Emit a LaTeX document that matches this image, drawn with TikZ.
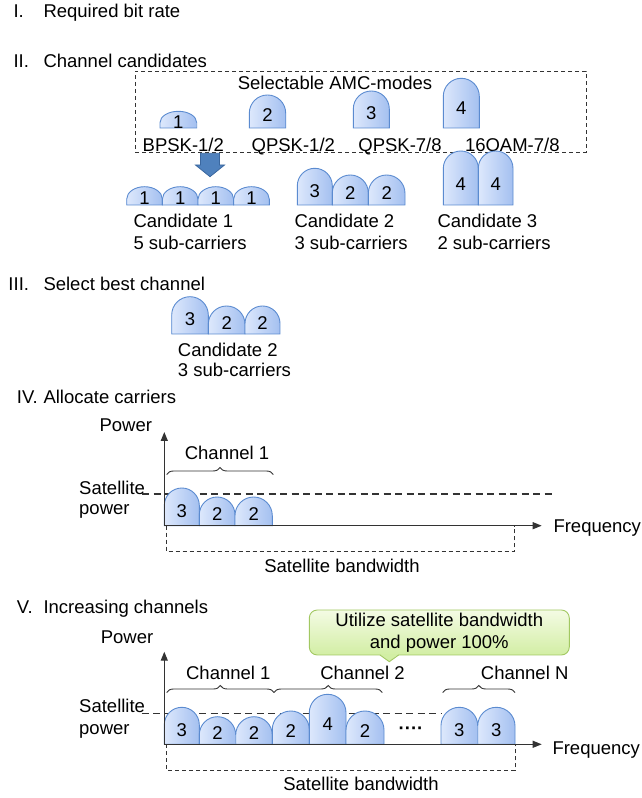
\documentclass[tikz,border=0pt]{standalone}
\usepackage{fontspec}
\setmainfont{Liberation Sans}
\usepackage{tikz}
\usetikzlibrary{arrows.meta,decorations.pathreplacing}

\definecolor{carL}{HTML}{DDE8FC}
\definecolor{carR}{HTML}{A4C0F0}
\definecolor{carD}{HTML}{5B8BD0}
\definecolor{arrF}{HTML}{4F81BD}
\definecolor{arrD}{HTML}{3A679F}
\definecolor{noteT}{HTML}{F4FBE4}
\definecolor{noteB}{HTML}{D2EEA4}
\definecolor{noteD}{HTML}{A2C862}
\definecolor{lineG}{HTML}{333333}

\begin{document}
\begin{tikzpicture}[
        x=1pt, y=1pt,
        every node/.style={font=\fontsize{18.5}{22.5}\selectfont, inner sep=0pt},
        lbl/.style={text height=13.4pt, text depth=0pt},
        carrierbox/.style={left color=carL, right color=carR, draw=carD, line width=0.9pt},
        pics/carrier/.style n args={3}{code={
            \pgfmathsetmacro\crad{min(#1/2,0.68*#2)}
            \pgfmathsetmacro\cside{#2-\crad}
            \draw[carrierbox] (0,0) -- (0,\cside) arc[start angle=180,end angle=0,x radius=#1/2,y radius=\crad] -- (#1,0) -- cycle;
            \node[lbl] (-n) at (#1/2,0.4*#2) {#3};
        }},
        axis/.style={lineG, line width=1.2pt, -{Triangle[length=9pt,width=7pt]}},
        level/.style={lineG, line width=1.1pt, dash pattern=on 7pt off 4.5pt},
        span/.style={lineG, line width=0.9pt, dash pattern=on 4pt off 3pt},
        chbrace/.style={decorate, decoration={brace, amplitude=7pt}, lineG, line width=0.9pt}
    ]
    \useasboundingbox (0,0) rectangle (641,798);

    % I and II
    \node[lbl, anchor=west] (numI) at (13.3,787.2) {I.};
    \node[lbl, anchor=west] (txtI) at (43.3,787.2) {Required bit rate};
    \node[lbl, anchor=west] (numII) at (13.3,737.5) {II.};
    \node[lbl, anchor=west] (txtII) at (43.3,737.5) {Channel candidates};

    \node[draw=lineG, line width=0.8pt, dash pattern=on 4pt off 3pt, minimum width=451pt, minimum height=81pt] (amcbox) at (360.5,686.5) {};
    \node[lbl] (amc) at (335,715.3) {Selectable AMC-modes};
    \pic (m1) at (160,670)   {carrier={36.7}{16.7}{1}};
    \pic (m2) at (249.3,670) {carrier={36.4}{33}{2}};
    \pic (m3) at (353.3,670) {carrier={36}{37}{3}};
    \pic (m4) at (443.3,670) {carrier={36}{49.7}{4}};
    \node[lbl] (bpsk) at (183.3,653) {BPSK-1/2};
    \node[lbl] (qpsk1) at (293.3,653) {QPSK-1/2};
    \node[lbl] (qpsk7) at (400,653) {QPSK-7/8};
    \node[lbl] (qam) at (512.3,653) {16QAM-7/8};

    \filldraw[fill=arrF, draw=arrD, line width=0.8pt] (200.5,644.7) -- (219.5,644.7) -- (219.5,633) -- (224.5,633) -- (210,621.3) -- (195.5,633) -- (200.5,633) -- cycle;

    \foreach \i in {0,...,3}
        \pic (c1\i) at ({126.7+35.65*\i},593) {carrier={35.65}{18.3}{1}};
    \pic (c2a) at (297.3,593) {carrier={35}{36.7}{3}};
    \pic (c2b) at (332.3,593) {carrier={36}{30}{2}};
    \pic (c2c) at (368.3,593) {carrier={36.7}{30}{2}};
    \pic (c3a) at (443.3,593) {carrier={35}{54}{4}};
    \pic (c3b) at (478.3,593) {carrier={34.7}{54}{4}};
    \node[lbl, anchor=west] (cand1) at (133.3,577.2) {Candidate 1};
    \node[lbl, anchor=west] (sub1) at (133.3,555.5) {5 sub-carriers};
    \node[lbl, anchor=west] (cand2) at (294.3,577.2) {Candidate 2};
    \node[lbl, anchor=west] (sub2) at (294.3,555.5) {3 sub-carriers};
    \node[lbl, anchor=west] (cand3) at (437.3,577.2) {Candidate 3};
    \node[lbl, anchor=west] (sub3) at (437.3,555.5) {2 sub-carriers};

    % III
    \node[lbl, anchor=west] (numIII) at (8.3,514.2) {III.};
    \node[lbl, anchor=west] (txtIII) at (43.3,514.2) {Select best channel};
    \pic (b1) at (171.7,464) {carrier={36.6}{37.3}{3}};
    \pic (b2) at (208.3,464) {carrier={36.7}{28}{2}};
    \pic (b3) at (245,464) {carrier={35}{28}{2}};
    \node[lbl, anchor=west] (best) at (177.7,448.2) {Candidate 2};
    \node[lbl, anchor=west] (bestsub) at (177.7,427.8) {3 sub-carriers};

    % IV
    \node[lbl, anchor=west] (numIV) at (16.7,400.8) {IV.};
    \node[lbl, anchor=west] (txtIV) at (43.3,400.8) {Allocate carriers};
    \coordinate (o4) at (164.3,272.3);
    \coordinate (p4) at (164.3,366);
    \coordinate (f4) at (541.7,272.3);
    \node[lbl] (pow4) at (125.8,372.7) {Power};
    \node[lbl, anchor=west] (sat4) at (79,310.2) {Satellite};
    \node[lbl, anchor=west] (satp4) at (79,289.7) {power};
    \draw[level] (142,304) -- (552,304);
    \pic (a1) at (o4) {carrier={35}{37.7}{3}};
    \pic (a2) at (199.3,272.3) {carrier={35.7}{28.7}{2}};
    \pic (a3) at (235,272.3) {carrier={37.3}{28.7}{2}};
    \draw[axis] (o4) -- (p4);
    \draw[axis] (o4) -- (f4);
    \node[lbl, anchor=west] (freq4) at (553.3,272) {Frequency};
    \draw[chbrace] (166.7,323.5) -- (273.3,323.5);
    \node[lbl] (ch41) at (227,345.2) {Channel 1};
    \draw[span] (166.7,272.3) -- (166.7,246.3) -- (514.3,246.3) -- (514.3,272.3);
    \node[lbl] (bw4) at (342,232.5) {Satellite bandwidth};

    % V
    \node[lbl, anchor=west] (numV) at (16.7,190.8) {V.};
    \node[lbl, anchor=west] (txtV) at (43.3,190.8) {Increasing channels};
    \coordinate (o5) at (164.3,53.7);
    \coordinate (p5) at (164.3,146.3);
    \coordinate (f5) at (541.7,53.7);
    \node[lbl] (pow5) at (127,161.3) {Power};
    \node[lbl, anchor=west] (sat5) at (79,91.8) {Satellite};
    \node[lbl, anchor=west] (satp5) at (79,69.7) {power};
    \draw[level] (141.7,84.7) -- (441.7,84.7);
    \pic (v1) at (o5) {carrier={35}{37}{3}};
    \pic (v2) at (199.3,53.7) {carrier={36.4}{27.6}{2}};
    \pic (v3) at (235.7,53.7) {carrier={36.6}{27.6}{2}};
    \pic (v4) at (272.3,53.7) {carrier={37}{33.3}{2}};
    \pic (v5) at (309.3,53.7) {carrier={36.7}{50}{4}};
    \pic (v6) at (346,53.7) {carrier={38}{33.3}{2}};
    \node[lbl, font=\fontsize{18.5}{22.5}\selectfont\bfseries] (dots) at (411,70) {····};
    \pic (v7) at (441,53.7) {carrier={36.7}{37}{3}};
    \pic (v8) at (477.7,53.7) {carrier={37.3}{37}{3}};
    \draw[axis] (o5) -- (p5);
    \draw[axis] (o5) -- (f5);
    \node[lbl, anchor=west] (freq5) at (552.3,49.7) {Frequency};
    \draw[chbrace] (166.7,105.5) -- (274,105.5);
    \draw[chbrace] (274,105.5) -- (382.3,105.5);
    \draw[chbrace] (442.7,105.5) -- (515,105.5);
    \node[lbl] (ch51) at (228.3,125.2) {Channel 1};
    \node[lbl] (ch52) at (362.5,125.2) {Channel 2};
    \node[lbl] (ch5n) at (524.7,125.2) {Channel N};
    \draw[span] (166.7,53.7) -- (166.7,27.3) -- (515,27.3) -- (515,53.7);
    \node[lbl] (bw5) at (361,14.2) {Satellite bandwidth};

    % note
    \node[draw=noteD, top color=noteT, bottom color=noteB, rounded corners=8pt, line width=0.9pt, minimum width=260pt, minimum height=45pt, align=center] (note) at (439.3,165.5) {Utilize satellite bandwidth\\and power 100\%};
    \fill[noteB] (380,143.9) -- (389.3,136.3) -- (398.6,143.9) -- cycle;
    \draw[noteD, line width=0.9pt] (380,143) -- (389.3,136.3) -- (398.6,143);
\end{tikzpicture}
\end{document}
